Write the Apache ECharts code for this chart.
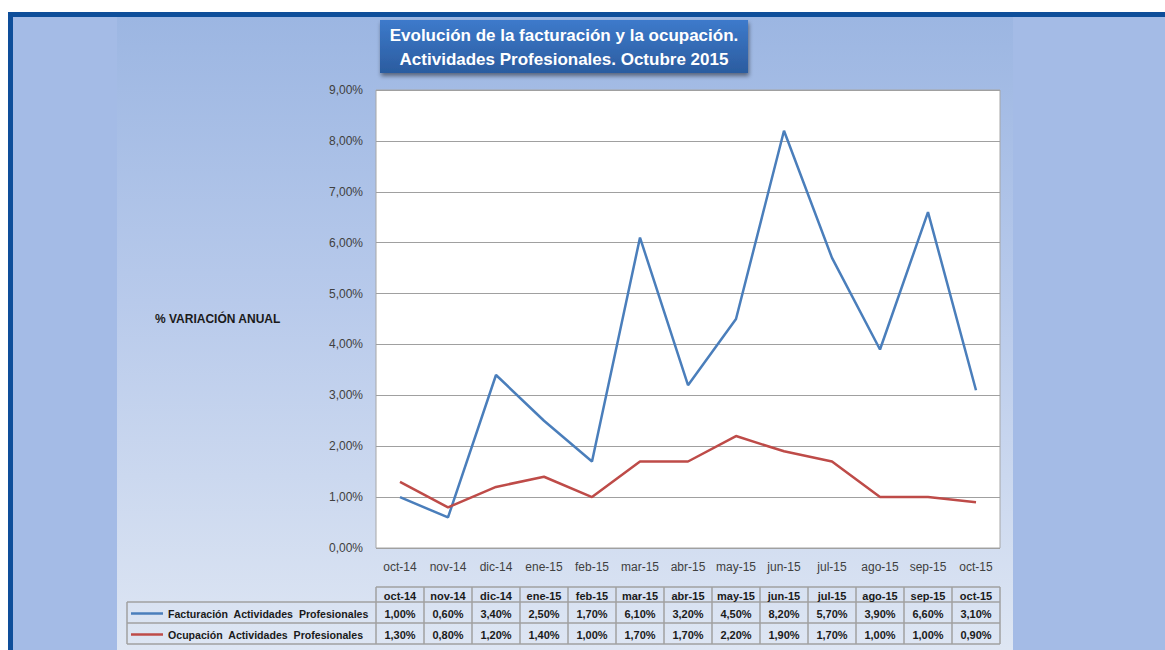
<!DOCTYPE html>
<html>
<head>
<meta charset="utf-8">
<script src="https://cdn.jsdelivr.net/npm/echarts@6/dist/echarts.min.js"></script>
<style>
  html, body { margin: 0; padding: 0; background: #fff; }
  #chart { width: 1165px; height: 650px; }
</style>
</head>
<body>
<div id="chart"></div>
<script>
// datos
let categories = ['oct-14', 'nov-14', 'dic-14', 'ene-15', 'feb-15', 'mar-15', 'abr-15',
                  'may-15', 'jun-15', 'jul-15', 'ago-15', 'sep-15', 'oct-15'];
let facturacion = [1.0, 0.6, 3.4, 2.5, 1.7, 6.1, 3.2, 4.5, 8.2, 5.7, 3.9, 6.6, 3.1];
let ocupacion = [1.3, 0.8, 1.2, 1.4, 1.0, 1.7, 1.7, 2.2, 1.9, 1.7, 1.0, 1.0, 0.9];
let seriesNames = ['Facturación  Actividades  Profesionales', 'Ocupación  Actividades  Profesionales'];
let seriesColors = ['#4A7EBB', '#BE4B48'];
let titleLines = ['Evolución de la facturación y la ocupación.', 'Actividades Profesionales. Octubre 2015'];

const FONT = '"Liberation Sans", Arial, sans-serif';
const fmt = function (v) {
    return v.toFixed(2).replace('.', ',') + '%';
};

let chart = echarts.init(document.getElementById('chart'), null, {renderer: 'svg'});

let background = [
    {type: 'rect', z: -10, silent: true, shape: {x: 8, y: 12, width: 1157, height: 638}, style: {fill: '#0E4E9A'}},
    {type: 'rect', z: -9, silent: true, shape: {x: 13, y: 17, width: 1152, height: 633}, style: {fill: '#A4BBE6'}},
    {
        type: 'rect', z: -8, silent: true,
        shape: {x: 117, y: 17, width: 896, height: 633},
        style: {
            fill: new echarts.graphic.LinearGradient(0, 0, 0, 1, [
                {offset: 0, color: '#9CB6E2'},
                {offset: 0.45, color: '#B8CAEB'},
                {offset: 1, color: '#DEE6F3'}
            ])
        }
    },
    {
        type: 'rect', z: 5, silent: true,
        shape: {x: 380, y: 20, width: 368, height: 53},
        style: {
            fill: new echarts.graphic.LinearGradient(0, 0, 0, 1, [
                {offset: 0, color: '#3D7ACB'},
                {offset: 1, color: '#2B5C9F'}
            ]),
            shadowBlur: 4, shadowOffsetX: 1, shadowOffsetY: 3, shadowColor: 'rgba(0,0,0,0.45)'
        }
    },
    {
        type: 'text', z: 6, silent: true, x: 564, y: 35,
        style: {text: titleLines[0], fill: '#fff', font: 'bold 17px ' + FONT, align: 'center', verticalAlign: 'middle'}
    },
    {
        type: 'text', z: 6, silent: true, x: 564, y: 59,
        style: {text: titleLines[1], fill: '#fff', font: 'bold 17px ' + FONT, align: 'center', verticalAlign: 'middle'}
    },
    {
        type: 'text', z: 6, silent: true, x: 155, y: 319,
        style: {text: '% VARIACIÓN ANUAL', fill: '#1a1a1a', font: 'bold 12px ' + FONT, verticalAlign: 'middle'}
    }
];

let option = {
    backgroundColor: '#ffffff',
    animation: false,
    grid: {
        left: 376, top: 90, width: 624, height: 458,
        show: true, backgroundColor: '#ffffff', borderColor: '#A6A6A6', borderWidth: 1
    },
    xAxis: {
        type: 'category',
        data: categories,
        boundaryGap: true,
        axisLine: {show: false},
        axisTick: {show: false},
        axisLabel: {interval: 0, color: '#404040', fontFamily: FONT, fontSize: 12, margin: 13}
    },
    yAxis: {
        type: 'value',
        min: 0, max: 9, interval: 1,
        axisLine: {show: false},
        axisTick: {show: false},
        splitLine: {lineStyle: {color: '#A0A0A0', width: 1}},
        axisLabel: {color: '#404040', fontFamily: FONT, fontSize: 12, margin: 13, formatter: fmt}
    },
    series: [
        {
            name: seriesNames[0], type: 'line', data: facturacion, symbol: 'none',
            lineStyle: {color: seriesColors[0], width: 2.5}, itemStyle: {color: seriesColors[0]}
        },
        {
            name: seriesNames[1], type: 'line', data: ocupacion, symbol: 'none',
            lineStyle: {color: seriesColors[1], width: 2.5}, itemStyle: {color: seriesColors[1]}
        }
    ],
    graphic: background
};
chart.setOption(option);

// tabla de datos bajo el eje
function buildTable() {
    let rowsY = [587, 602, 623, 644];
    let tableLeft = 127;
    let lineColor = '#A0A0A0';
    let half = 24;
    let items = [];
    let xs = categories.map(function (c) {
        return chart.convertToPixel({xAxisIndex: 0}, c);
    });
    let colLeft = xs[0] - half;
    let colRight = xs[xs.length - 1] + half;
    let tableRows = [facturacion, ocupacion];

    // líneas horizontales
    items.push({type: 'line', shape: {x1: colLeft, y1: rowsY[0], x2: colRight, y2: rowsY[0]}, style: {stroke: lineColor, lineWidth: 1.5}});
    for (let r = 1; r < rowsY.length; r++) {
        items.push({type: 'line', shape: {x1: tableLeft, y1: rowsY[r], x2: colRight, y2: rowsY[r]}, style: {stroke: lineColor, lineWidth: 1.5}});
    }
    // líneas verticales
    items.push({type: 'line', shape: {x1: tableLeft, y1: rowsY[1], x2: tableLeft, y2: rowsY[3]}, style: {stroke: lineColor, lineWidth: 1.5}});
    for (let i = 0; i <= xs.length; i++) {
        let x = i < xs.length ? xs[i] - half : colRight;
        items.push({type: 'line', shape: {x1: x, y1: rowsY[0], x2: x, y2: rowsY[3]}, style: {stroke: lineColor, lineWidth: 1.5}});
    }
    // cabecera
    for (let i = 0; i < xs.length; i++) {
        items.push({
            type: 'text', x: xs[i], y: (rowsY[0] + rowsY[1]) / 2 + 1,
            style: {text: categories[i], fill: '#1a1a1a', font: 'bold 11px ' + FONT, align: 'center', verticalAlign: 'middle'}
        });
    }
    // filas con leyenda
    for (let r = 0; r < tableRows.length; r++) {
        let cy = (rowsY[r + 1] + rowsY[r + 2]) / 2 + 1;
        items.push({type: 'line', shape: {x1: 131, y1: cy, x2: 163, y2: cy}, style: {stroke: seriesColors[r], lineWidth: 2.5}});
        items.push({
            type: 'text', x: 168, y: cy,
            style: {text: seriesNames[r], fill: '#1a1a1a', font: 'bold 10.6px ' + FONT, verticalAlign: 'middle'}
        });
        for (let i = 0; i < xs.length; i++) {
            items.push({
                type: 'text', x: xs[i], y: cy,
                style: {text: fmt(tableRows[r][i]), fill: '#1a1a1a', font: 'bold 11px ' + FONT, align: 'center', verticalAlign: 'middle'}
            });
        }
    }
    items.forEach(function (it) {
        it.silent = true;
        it.z = 10;
    });
    chart.setOption({graphic: background.concat(items)});
}
buildTable();
</script>
</body>
</html>
